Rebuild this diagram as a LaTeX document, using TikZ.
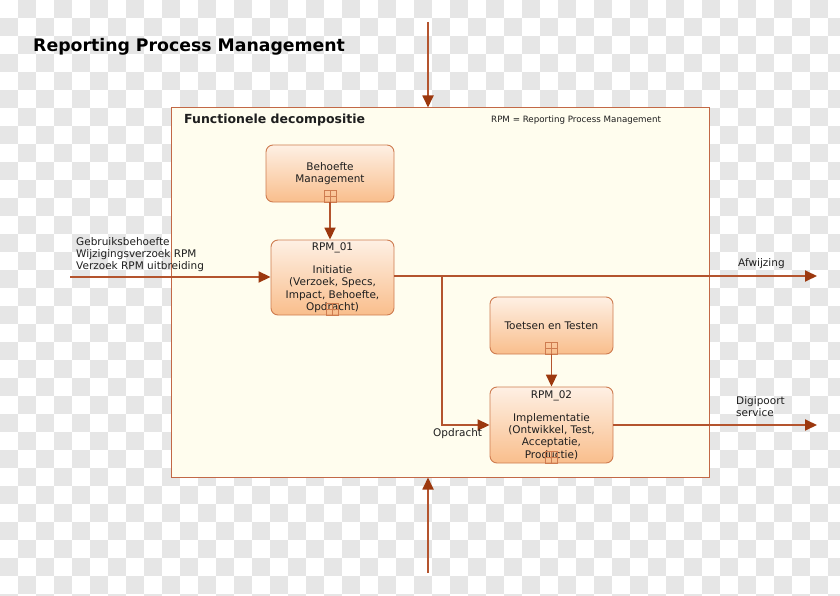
\documentclass[tikz,border=0pt]{standalone}
\usepackage{fontspec}
\setmainfont{DejaVu Sans}
\usetikzlibrary{arrows.meta,positioning,calc}
\definecolor{chk}{RGB}{230,230,230}
\definecolor{frameb}{RGB}{194,104,70}
\definecolor{framef}{RGB}{255,253,238}
\definecolor{nodeb}{RGB}{206,124,80}
\definecolor{nodetop}{RGB}{254,240,228}
\definecolor{nodebot}{RGB}{249,190,140}
\definecolor{linec}{RGB}{180,84,46}
\definecolor{headc}{RGB}{156,56,14}
\definecolor{txt}{RGB}{30,30,30}
\tikzset{
  proc/.style={draw=nodeb, line width=0.9pt, rounded corners=7pt,
    top color=nodetop, bottom color=nodebot, minimum width=123pt,
    align=center, inner sep=0pt, text=txt,
    font=\fontsize{10.5}{12.2}\selectfont},
  plusbox/.style={draw=nodeb, line width=0.7pt, minimum width=12pt, minimum height=12pt,
    inner sep=0pt, anchor=south,
    path picture={\draw[nodeb, line width=0.8pt]
      (path picture bounding box.north) -- (path picture bounding box.south)
      (path picture bounding box.west) -- (path picture bounding box.east);}},
  flow/.style={draw=linec, line width=1.8pt,
    -{Triangle[length=12pt,width=11pt,fill=headc,color=headc]}},
  lbl/.style={text=txt, inner sep=0pt, align=left, font=\fontsize{10.5}{12}\selectfont}
}
\begin{document}
\begin{tikzpicture}[x=1pt,y=-1pt]
\useasboundingbox (0,0) rectangle (840,596);
\begin{scope}
\clip (0,0) rectangle (840,596);
\foreach \i in {1,3,...,47} {\foreach \j in {0,2,...,32} {\fill[chk] (\i*18,\j*18) rectangle ++(18,18);}}
\foreach \i in {0,2,...,46} {\foreach \j in {1,3,...,33} {\fill[chk] (\i*18,\j*18) rectangle ++(18,18);}}
\end{scope}

\node[anchor=west, inner sep=0pt, font=\bfseries\fontsize{17.3}{20}\selectfont, text=black] (title) at (33,47) {Reporting Process Management};

\node[draw=frameb, fill=framef, line width=1pt, minimum width=538pt, minimum height=369pt, inner sep=0pt] (frame) at (440,292.5) {};
\node[anchor=west, inner sep=0pt, font=\bfseries\fontsize{12.5}{14}\selectfont, text=txt] (ftitle) at (184,120) {Functionele decompositie};
\node[anchor=west, inner sep=0pt, font=\fontsize{8.7}{10}\selectfont, text=txt] (legend) at (491,120) {RPM = Reporting Process Management};

\node[proc, minimum width=128pt, minimum height=57pt] (beh) at (330,173.5) {Behoefte\\Management};
\node[proc, minimum height=75pt] (rpm1) at (332.5,277.5) {RPM\_01\\[11pt]Initiatie\\(Verzoek, Specs,\\Impact, Behoefte,\\Opdracht)};
\node[proc, minimum height=57pt] (toe) at (551.5,325.5) {Toetsen en Testen};
\node[proc, minimum height=76pt] (rpm2) at (551.5,425) {RPM\_02\\[11pt]Implementatie\\(Ontwikkel, Test,\\Acceptatie,\\Productie)};

\node[plusbox] (p1) at (beh.south) {};
\node[plusbox] (p2) at (rpm1.south) {};
\node[plusbox] (p3) at (toe.south) {};
\node[plusbox] (p4) at (rpm2.south) {};

\coordinate (inL) at (70,277);
\coordinate (outA) at (817,276);
\coordinate (outD) at (817,425);
\coordinate (br) at (442,276);
\coordinate (topS) at (428,22);
\coordinate (botS) at (428,573);

\draw[flow] (p1.south) -- (p1.south |- rpm1.north);
\draw[flow] (p3.south) -- (rpm2.north);
\draw[flow] (inL) -- (inL -| rpm1.west);
\draw[flow] (rpm1.east |- outA) -- (outA);
\draw[flow] (br) |- (rpm2.west);
\draw[flow] (rpm2.east) -- (outD);
\draw[flow] (topS) -- (topS |- frame.north);
\draw[flow] (botS) -- (botS |- frame.south);

\node[lbl, anchor=north west] (inlbl) at (76,237) {Gebruiksbehoefte\\Wijzigingsverzoek RPM\\Verzoek RPM uitbreiding};
\node[lbl, anchor=west] (afw) at (738,264) {Afwijzing};
\node[lbl, anchor=north west] (digi) at (736,396) {Digipoort\\service};
\node[lbl, anchor=west] (opd) at (433,434) {Opdracht};
\end{tikzpicture}
\end{document}
